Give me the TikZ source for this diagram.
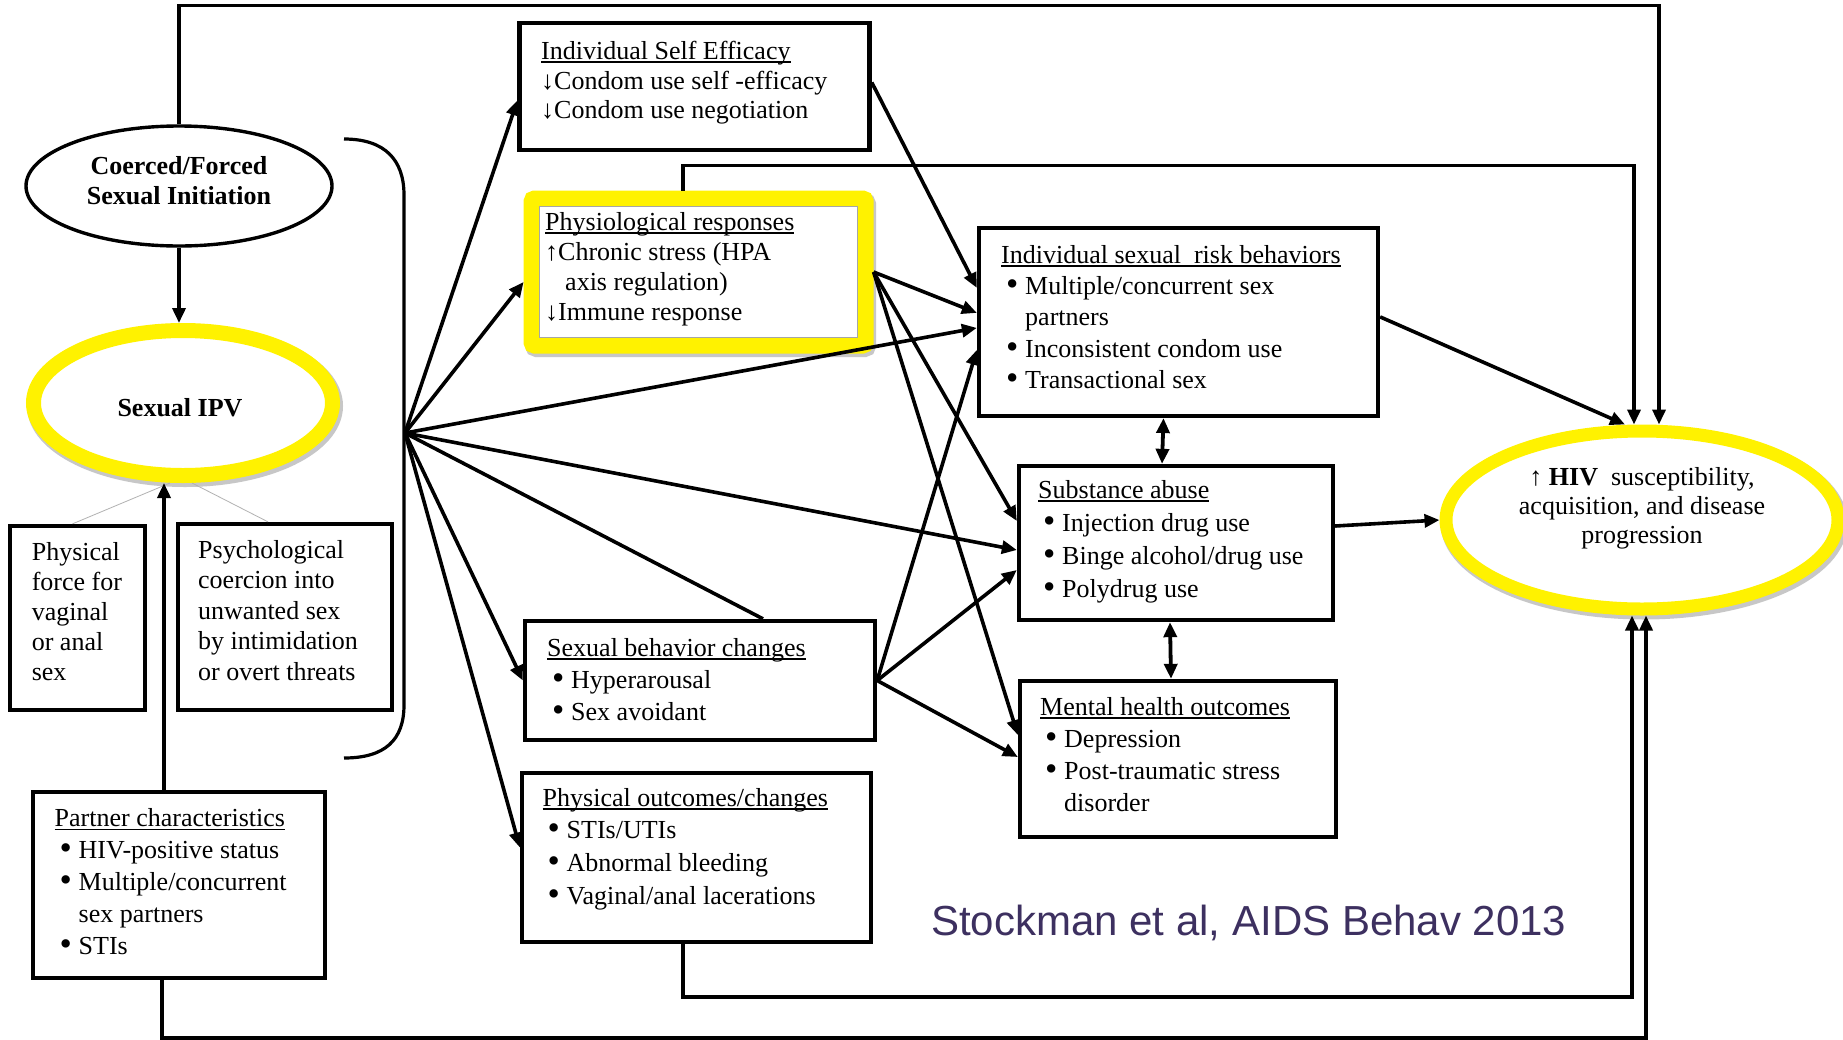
\documentclass[tikz,border=0pt]{standalone}
\usepackage{graphicx}
\usepackage{fontspec}
\setmainfont{Liberation Serif}
\newfontfamily\creditfont{Liberation Sans}
\usetikzlibrary{arrows.meta,shapes.geometric}
\definecolor{credit}{RGB}{61,48,96}
\newcommand\uln[1]{\setbox0=\hbox{#1}\rlap{\rule[-3.5pt]{\wd0}{1.8pt}}\box0}
\newcommand\bul{\hspace*{5pt}\makebox[19pt][l]{\raisebox{-1pt}{\scalebox{1.35}{•}}}}
\newcommand\ind{\hspace*{24pt}}
\newcommand\fsz[1]{\fontsize{26}{#1}\selectfont}
\begin{document}
\begin{tikzpicture}[x=1pt,y=-1pt,
  box/.style={draw, line width=4.3pt, fill=white, inner sep=0pt},
  txt/.style={align=left, anchor=north west, inner sep=0pt},
  arr/.style={line width=3.6pt, -{Triangle[length=15pt,width=13pt]}},
  darr/.style={line width=3.8pt, {Triangle[length=15pt,width=13pt]}-{Triangle[length=15pt,width=13pt]}},
  conn/.style={line width=3.6pt},
  shade/.style={preaction={draw=black!22, line width=#1, transform canvas={shift={(2pt,-3pt)}}}},
  hl/.style={draw=yellow, fill=white},
  thinlink/.style={draw=gray!60, line width=0.8pt}
]
\useasboundingbox (0,0) rectangle (1843,1039);
\fill[white] (0,0) rectangle (1843,1039);

% ellipses
\node[ellipse, draw, line width=3.4pt, fill=white, minimum width=306pt, minimum height=120pt, inner sep=0pt] (co) at (179,186) {};
\node[font=\bfseries\fsz{30}, align=center, inner sep=0pt] (cot) at (179,181) {Coerced/Forced\\Sexual Initiation};
\node[ellipse, hl, line width=15pt, shade=17pt, minimum width=299pt, minimum height=145pt, inner sep=0pt] (ipv) at (183,403) {};
\node[font=\bfseries\fsz{30}, inner sep=0pt] (ipvt) at (180,408) {Sexual IPV};
\node[ellipse, hl, line width=13pt, shade=15pt, minimum width=392pt, minimum height=178pt, inner sep=0pt] (hiv) at (1642,520) {};
\node[font=\fsz{29}, align=center, inner sep=0pt] (hivt) at (1642,508) {↑ \textbf{HIV}\ \ susceptibility,\\acquisition, and disease\\progression};

% left boxes
\node[box, minimum width=135pt, minimum height=184pt] (pf) at (77.5,618) {};
\node[txt, font=\fsz{30}] (pft) at (31.6,542) {Physical\\force for\\vaginal\\or anal\\sex};
\node[box, minimum width=214pt, minimum height=186pt] (pco) at (285,617) {};
\node[txt, font=\fsz{30.5}] (pcot) at (198,540) {Psychological\\coercion into\\unwanted sex\\by intimidation\\or overt threats};
\node[box, minimum width=292pt, minimum height=186pt] (pc) at (179,885) {};
\node[txt, font=\fsz{31.8}] (pct) at (54.5,808.6) {\uln{Partner characteristics}\\\bul HIV-positive status\\\bul Multiple/concurrent\\\ind sex partners\\\bul STIs};

% middle boxes
\node[box, minimum width=350pt, minimum height=127pt] (se) at (694.6,86.4) {};
\node[txt, font=\fsz{29.5}] (set) at (541,41) {\uln{Individual Self Efficacy}\\↓Condom use self -efficacy\\↓Condom use negotiation};
\node[draw=yellow, line width=16pt, rounded corners=3pt, fill=white, shade=17pt, minimum width=334pt, minimum height=147pt, inner sep=0pt] (ph) at (698.6,272) {};
\draw[draw=gray!70, line width=1.5pt] ([shift={(16pt,16pt)}]ph.south west) rectangle ([shift={(-16pt,-16pt)}]ph.north east);
\node[txt, font=\fsz{30}] (pht) at (545,212) {\uln{Physiological responses}\\↑Chronic stress (HPA\\\hspace*{20pt}axis regulation)\\↓Immune response};
\node[box, minimum width=350pt, minimum height=119pt] (sb) at (700,680.5) {};
\node[txt, font=\fsz{32}] (sbt) at (547,638) {\uln{Sexual behavior changes}\\\bul Hyperarousal\\\bul Sex avoidant};
\node[box, minimum width=349pt, minimum height=169pt] (po) at (696.5,857.5) {};
\node[txt, font=\fsz{32.6}] (pot) at (542.5,788) {\uln{Physical outcomes/changes}\\\bul STIs/UTIs\\\bul Abnormal bleeding\\\bul Vaginal/anal lacerations};

% right boxes
\node[box, minimum width=399pt, minimum height=188pt] (rb) at (1178.5,321.9) {};
\node[txt, font=\fsz{31.3}] (rbt) at (1001,245) {\uln{Individual sexual\ \ risk behaviors}\\\bul Multiple/concurrent sex\\\ind partners\\\bul Inconsistent condom use\\\bul Transactional sex};
\node[box, minimum width=314pt, minimum height=154pt] (sa) at (1176,543) {};
\node[txt, font=\fsz{33}] (sat) at (1038,480) {\uln{Substance abuse}\\\bul Injection drug use\\\bul Binge alcohol/drug use\\\bul Polydrug use};
\node[box, minimum width=316pt, minimum height=156pt] (mh) at (1178,759) {};
\node[txt, font=\fsz{32}] (mht) at (1040,697) {\uln{Mental health outcomes}\\\bul Depression\\\bul Post-traumatic stress\\\ind disorder};

% credit
\node[font=\creditfont\fontsize{42}{48}\selectfont, text=credit, anchor=base west, inner sep=0pt] (cr) at (931,935) {Stockman et al, AIDS Behav 2013};

% bracket
\draw[line width=3.2pt] (344,139) .. controls (385,139) and (404,160) .. (404,195) -- (404,705) .. controls (404,740) and (385,758) .. (344,758);
\coordinate (fan) at (405,433);

% thin links
\draw[thinlink] ([xshift=-13pt]ipv.south) -- ([xshift=-5pt]pf.north);
\draw[thinlink] ([xshift=9pt]ipv.south) -- ([xshift=-17pt]pco.north);

% left arrows
\draw[arr] (co.south) -- (co.south |- ipv.north);
\draw[arr] ([xshift=-15pt]pc.north) -- ([xshift=-19pt]ipv.south);

% frame connectors
\draw[arr] (co.north) -- ++(0,-119) -| ([xshift=17pt]hiv.north);
\draw[arr] ([xshift=-15.6pt]ph.north) -- ++(0,-25) -| ([xshift=-8pt]hiv.north);
\draw[arr] ([xshift=-13.5pt]po.south) -- ++(0,53) -| ([xshift=-10pt]hiv.south);
\draw[arr] ([xshift=-17pt]pc.south) -- ++(0,58) -| ([xshift=4pt]hiv.south);

% fan
\draw[arr] (fan) -- ([yshift=-14pt]se.west);
\draw[arr] (fan) -- ([yshift=-10pt]ph.west);
\draw[arr] (fan) -- ([yshift=-6pt]rb.west);
\draw[arr] (fan) -- ([yshift=-7pt]sa.west);
\draw[arr] (fan) -- (sb.west);
\draw[arr] (fan) -- ([yshift=10pt]po.west);
\draw[conn] (fan) -- ([xshift=63pt]sb.north);

% cross arrows
\draw[arr] ([yshift=4pt]se.east) -- ([yshift=34pt]rb.west);
\draw[arr] (ph.east) -- ([yshift=9pt]rb.west);
\draw[arr] (ph.east) -- ([yshift=22pt]sa.west);
\draw[arr] (ph.east) -- ([yshift=24pt]mh.west);
\draw[arr] (sb.east) -- ([yshift=-28pt]rb.west);
\draw[arr] (sb.east) -- ([yshift=-27pt]sa.west);
\draw[arr] (sb.east) -- ([yshift=2pt]mh.west);

% right arrows
\draw[arr] ([yshift=5pt]rb.east) -- ([xshift=-17pt]hiv.north);
\draw[arr] ([yshift=17pt]sa.east) -- (hiv.west);
\draw[darr] ([xshift=-15pt]rb.south) -- ([xshift=-14pt]sa.north);
\draw[darr] ([xshift=-6pt]sa.south) -- ([xshift=-7pt]mh.north);
\end{tikzpicture}
\end{document}
